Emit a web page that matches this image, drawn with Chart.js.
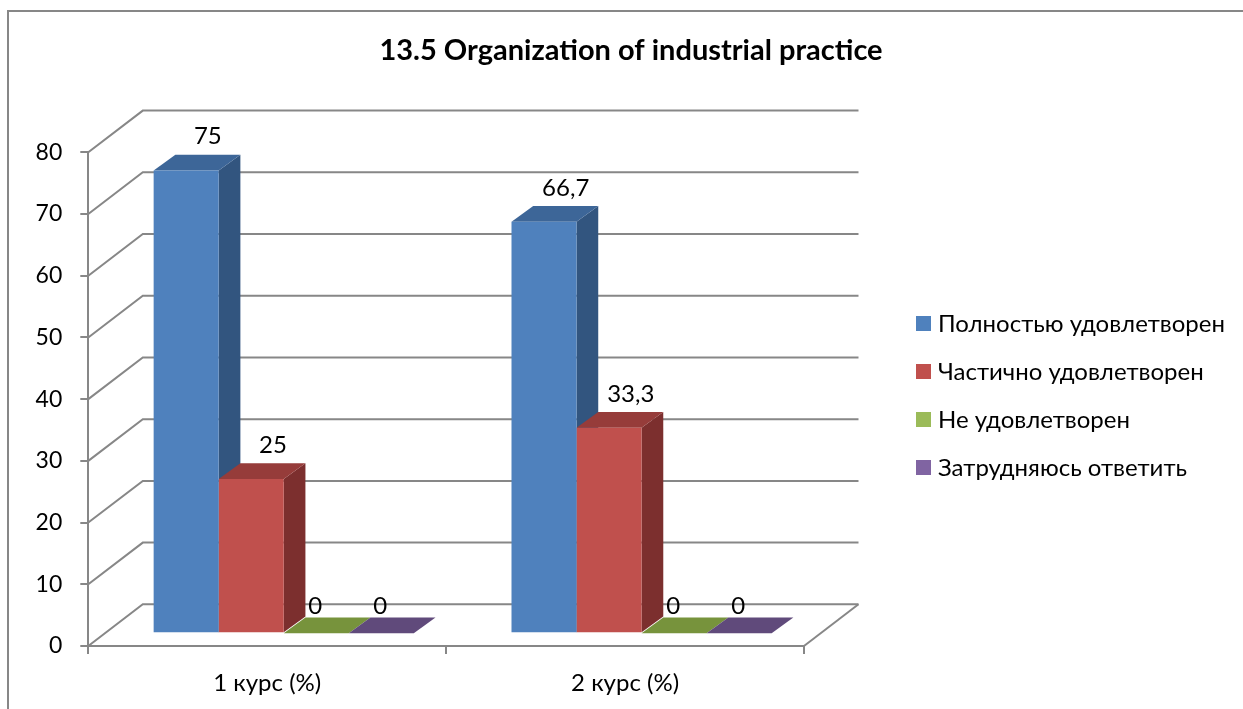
<!DOCTYPE html>
<html>
<head>
<meta charset="utf-8">
<script src="https://cdn.jsdelivr.net/npm/chart.js@4.4.1/dist/chart.umd.min.js"></script>
<style>
  html, body { margin: 0; padding: 0; background: #fff; }
  #chart { display: block; }
</style>
</head>
<body>
<canvas id="chart" width="1243" height="709"></canvas>
<script>
// data
const categories = ['1 курс (%)', '2 курс (%)'];
const seriesNames = ['Полностью удовлетворен', 'Частично удовлетворен', 'Не удовлетворен', 'Затрудняюсь ответить'];
const fullySatisfied = [75, 66.7];
const partlySatisfied = [25, 33.3];
const notSatisfied = [0, 0];
const hardToSay = [0, 0];
const yTicks = [0, 10, 20, 30, 40, 50, 60, 70, 80];

// front / top / side colours of each series
const frontColors = ['#4F81BD', '#C0504D', '#9BBB59', '#8064A2'];
const topColors = ['#3D6698', '#963C3A', '#77933C', '#604A7B'];
const sideColors = ['#32557F', '#7C2F2E', '#5F7730', '#4D3B63'];

const GRID = '#878787';
const FONT = 'Lato';

// 3d geometry (pixels)
const WALL_DX = 54.5, WALL_DY = -41.7;  // depth of the walls
const BAR_DX = 16.5, BAR_DY = -12.7;    // where the bar fronts sit inside the box
const DEPTH_DX = 21.7, DEPTH_DY = -15.7; // depth of one bar

const seriesValues = [fullySatisfied, partlySatisfied, notSatisfied, hardToSay];

const box3d = {
    id: 'box3d',
    beforeDraw(chart) {
        const ctx = chart.ctx;
        ctx.save();
        ctx.strokeStyle = GRID;
        ctx.lineWidth = 2;
        ctx.strokeRect(8, 11, 1400, 900);
        ctx.restore();
    },
    beforeDatasetsDraw(chart) {
        const { ctx, chartArea: a, scales: { y } } = chart;
        ctx.save();
        ctx.strokeStyle = GRID;
        ctx.lineWidth = 2;
        // side wall and back wall gridlines
        yTicks.forEach(v => {
            const py = y.getPixelForValue(v);
            ctx.beginPath();
            ctx.moveTo(a.left, py);
            ctx.lineTo(a.left + WALL_DX, py + WALL_DY);
            ctx.lineTo(a.right + WALL_DX, py + WALL_DY);
            ctx.stroke();
        });
        // floor right edge
        ctx.beginPath();
        ctx.moveTo(a.right, a.bottom);
        ctx.lineTo(a.right + WALL_DX, a.bottom + WALL_DY);
        ctx.stroke();

        // top and side faces, left to right so later fronts cover earlier sides
        ctx.translate(BAR_DX, BAR_DY);
        categories.forEach((c, i) => {
            chart.data.datasets.forEach((ds, d) => {
                const el = chart.getDatasetMeta(d).data[i];
                const { x, y: top, base, width } = el.getProps(['x', 'y', 'base', 'width'], true);
                const l = x - width / 2, r = x + width / 2;
                ctx.fillStyle = sideColors[d];
                ctx.beginPath();
                ctx.moveTo(r, top);
                ctx.lineTo(r + DEPTH_DX, top + DEPTH_DY);
                ctx.lineTo(r + DEPTH_DX, base + DEPTH_DY);
                ctx.lineTo(r, base);
                ctx.closePath();
                ctx.fill();
                ctx.fillStyle = topColors[d];
                ctx.beginPath();
                ctx.moveTo(l, top);
                ctx.lineTo(l + DEPTH_DX, top + DEPTH_DY);
                ctx.lineTo(r + DEPTH_DX, top + DEPTH_DY);
                ctx.lineTo(r, top);
                ctx.closePath();
                ctx.fill();
            });
        });
        ctx.restore();
        // the library draws the bar fronts shifted into the box
        ctx.save();
        ctx.translate(BAR_DX, BAR_DY);
    },
    afterDatasetsDraw(chart) {
        const ctx = chart.ctx;
        ctx.restore();
        ctx.save();
        ctx.fillStyle = '#000';
        ctx.font = '24px ' + FONT;
        ctx.textAlign = 'center';
        ctx.textBaseline = 'middle';
        chart.data.datasets.forEach((ds, d) => {
            chart.getDatasetMeta(d).data.forEach((el, i) => {
                const v = ds.data[i];
                const { x, y: top } = el.getProps(['x', 'y'], true);
                const txt = String(v).replace('.', ',');
                if (v === 0) {
                    ctx.fillText(txt, x + BAR_DX - 1, top + BAR_DY - 26.6);
                } else {
                    ctx.fillText(txt, x + BAR_DX + DEPTH_DX, top + BAR_DY + DEPTH_DY - 18);
                }
            });
        });
        ctx.restore();
    },
    afterDraw(chart) {
        // legend
        const ctx = chart.ctx;
        ctx.save();
        ctx.font = '24px ' + FONT;
        ctx.textBaseline = 'middle';
        ctx.textAlign = 'left';
        chart.data.datasets.forEach((ds, d) => {
            const cy = 323.5 + d * 48;
            ctx.fillStyle = frontColors[d];
            ctx.fillRect(916, cy - 7.5, 15, 15);
            ctx.fillStyle = '#000';
            ctx.fillText(ds.label, 938, cy + 1);
        });
        ctx.restore();
    }
};

const ctx = document.getElementById('chart').getContext('2d');
Chart.defaults.font.family = FONT;
Chart.defaults.color = '#000';

const chart = new Chart(ctx, {
    type: 'bar',
    data: {
        labels: categories,
        datasets: seriesNames.map((name, d) => ({
            label: name,
            data: seriesValues[d],
            backgroundColor: frontColors[d],
            borderWidth: 0,
            categoryPercentage: 0.727,
            barPercentage: 1,
            clip: false,
            yAxisID: 'y'
        }))
    },
    options: {
        responsive: false,
        animation: false,
        layout: { padding: { left: 19, right: 0, top: 0, bottom: 0 } },
        scales: {
            x: {
                offset: true,
                grid: { offset: true, drawOnChartArea: false, tickLength: 8, color: GRID, lineWidth: 2 },
                border: { color: GRID, width: 2 },
                ticks: { font: { size: 24 }, padding: 14.5 },
                afterFit: s => { s.height = 63; }
            },
            y: {
                min: 0,
                max: 80,
                ticks: { stepSize: 10, font: { size: 23 }, padding: 18 },
                grid: { drawOnChartArea: false, tickLength: 8, color: GRID, lineWidth: 2 },
                border: { color: GRID, width: 2 },
                afterFit: s => { s.width = 69.3; }
            },
            side: {
                type: 'linear',
                position: 'right',
                ticks: { display: false },
                grid: { display: false },
                border: { display: false },
                afterFit: s => { s.width = 439; }
            }
        },
        plugins: {
            legend: { display: false },
            tooltip: { enabled: false },
            title: {
                display: true,
                text: '13.5 Organization of industrial practice',
                font: { size: 29, weight: 'bold' },
                color: '#000',
                padding: { top: 33.6, bottom: 83.9 }
            }
        }
    },
    plugins: [box3d]
});
</script>
</body>
</html>
